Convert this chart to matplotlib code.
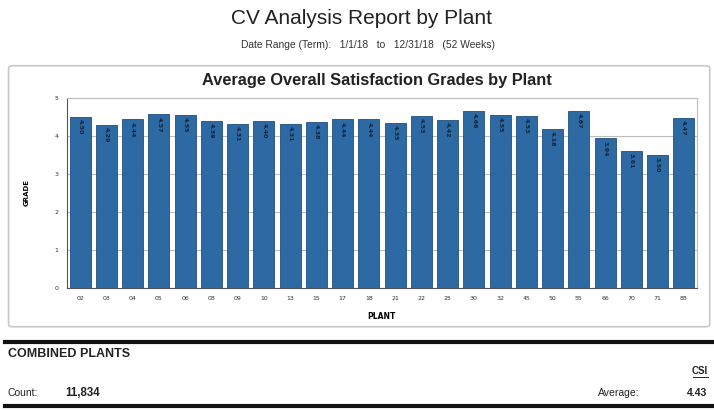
import matplotlib
matplotlib.use("Agg")
import matplotlib.pyplot as plt
from matplotlib.patches import FancyBboxPatch
from matplotlib.lines import Line2D

plants = ["02", "03", "04", "05", "06", "08", "09", "10", "13", "15", "17", "18",
          "21", "22", "25", "30", "32", "45", "50", "55", "66", "70", "71", "88"]
grades = [4.50, 4.29, 4.44, 4.57, 4.55, 4.39, 4.31, 4.40, 4.31, 4.38, 4.44, 4.44,
          4.35, 4.53, 4.42, 4.66, 4.55, 4.53, 4.18, 4.67, 3.94, 3.61, 3.50, 4.47]
y_ticks = [0, 1, 2, 3, 4, 5]

report_title = "CV Analysis Report by Plant"
date_range = "Date Range (Term):   1/1/18   to   12/31/18   (52 Weeks)"
chart_title = "Average Overall Satisfaction Grades by Plant"
combined_count = "11,834"
combined_avg = "4.43"

BAR = "#2d69a3"
FONT = "Liberation Sans"

fig = plt.figure(figsize=(7.14, 4.11), dpi=100)
fig.patch.set_facecolor("white")

# report header
fig.text(0.506, 0.955, report_title, ha="center", va="center", fontsize=15,
         family=FONT, color="#222222")
fig.text(0.515, 0.89, date_range, ha="center", va="center", fontsize=7.4,
         family=FONT, color="#333333")

# chart panel frame
panel = FancyBboxPatch((0.012, 0.205), 0.982, 0.635,
                       boxstyle="round,pad=0,rounding_size=0.006",
                       transform=fig.transFigure, facecolor="none",
                       edgecolor="#c8c8c8", linewidth=1.2, zorder=-1)
fig.patches.append(panel)
fig.text(0.528, 0.805, chart_title, ha="center", va="center", fontsize=11.8,
         fontweight="bold", family=FONT, color="#222222")

ax = fig.add_axes([0.0938, 0.2993, 0.8822, 0.4623])
x = list(range(len(plants)))
ax.bar(x, grades, width=0.8, color=BAR, edgecolor="#1f4f7e", linewidth=0.6, zorder=3)
for xi, g in zip(x, grades):
    ax.text(xi, g - 0.06, f"{g:.2f}", rotation=270, ha="center", va="top",
            fontsize=4.5, fontweight="bold", color="#10243a", zorder=4)

ax.set_xlim(-0.5, len(plants) - 0.5)
ax.set_ylim(0, 5)
ax.set_yticks(y_ticks)
ax.set_yticklabels([str(t) for t in y_ticks], fontsize=4.5, color="#333333")
ax.set_xticks(x)
ax.set_xticklabels(plants, fontsize=4.5, color="#333333")
ax.tick_params(axis="both", length=0, pad=6)
ax.grid(axis="y", color="#bdbdbd", linewidth=0.8, zorder=0)
for side in ["top", "right"]:
    ax.spines[side].set_color("#bdbdbd")
    ax.spines[side].set_linewidth(0.8)
ax.spines["left"].set_color("#555555")
ax.spines["bottom"].set_color("#555555")
ax.spines["left"].set_linewidth(0.8)
ax.spines["bottom"].set_linewidth(0.8)
ax.set_xlabel("PLANT", fontsize=5.5, fontweight="bold", labelpad=8)
ax.set_ylabel("GRADE", fontsize=5, fontweight="bold", labelpad=18)

# combined plants summary block
fig.add_artist(Line2D([0.007, 1.0], [0.168, 0.168], transform=fig.transFigure,
                      color="#111111", linewidth=3))
fig.text(0.011, 0.138, "COMBINED PLANTS", ha="left", va="center", fontsize=9,
         fontweight="bold", family=FONT, color="#222222")
fig.text(0.991, 0.098, "CSI", ha="right", va="center", fontsize=7,
         fontweight="bold", family=FONT, color="#222222")
fig.add_artist(Line2D([0.971, 0.991], [0.083, 0.083], transform=fig.transFigure,
                      color="#222222", linewidth=0.7))
fig.text(0.011, 0.044, "Count:", ha="left", va="center", fontsize=7.5,
         family=FONT, color="#222222")
fig.text(0.092, 0.044, combined_count, ha="left", va="center", fontsize=8.3,
         fontweight="bold", family=FONT, color="#222222")
fig.text(0.838, 0.044, "Average:", ha="left", va="center", fontsize=7.5,
         family=FONT, color="#222222")
fig.text(0.991, 0.044, combined_avg, ha="right", va="center", fontsize=7.5,
         fontweight="bold", family=FONT, color="#222222")
fig.add_artist(Line2D([0.007, 1.0], [0.012, 0.012], transform=fig.transFigure,
                      color="#111111", linewidth=3))

fig.savefig("out.png", dpi=100)
